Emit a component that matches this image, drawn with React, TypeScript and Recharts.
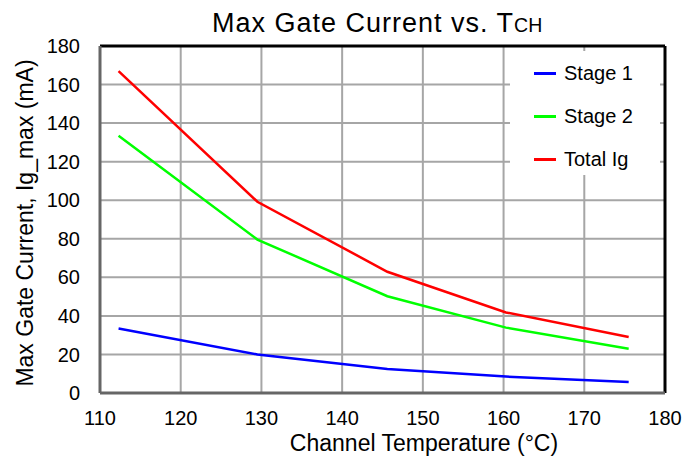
import React from 'react';
import { LineChart, Line, XAxis, YAxis, CartesianGrid, ReferenceLine } from 'recharts';

// channel temperature (°C) at each measured point
const temps = [112.3, 129.5, 145.6, 160.3, 175.5];
// max gate current (mA)
const stage1 = [33.5, 20, 12.4, 8.5, 5.7];
const stage2 = [133.5, 79.6, 50.2, 33.9, 23];
const totalIg = [167, 99.2, 62.9, 41.8, 29];

const xTicks = [110, 120, 130, 140, 150, 160, 170, 180];
const yTicks = [0, 20, 40, 60, 80, 100, 120, 140, 160, 180];

const SERIES = [
    { key: 'stage1', name: 'Stage 1', color: '#0000FF' },
    { key: 'stage2', name: 'Stage 2', color: '#00FF00' },
    { key: 'total', name: 'Total Ig', color: '#FF0000' },
];

const FONT = '"Liberation Sans", Arial, sans-serif';

const data = temps.map((t, i) => ({
    temp: t,
    stage1: stage1[i],
    stage2: stage2[i],
    total: totalIg[i],
}));

// legend sits inside the plot, top right, on a white box that hides the grid
const LegendBox = () => (
    <div style={{ position: 'absolute', left: 510, top: 51, background: '#fff', width: 150, height: 124, paddingTop: 1, boxSizing: 'border-box' }}>
        {SERIES.map((s) => (
            <div key={s.key} style={{ display: 'flex', alignItems: 'center', height: 43, fontFamily: FONT, fontSize: 20, color: '#000' }}>
                <span style={{ display: 'inline-block', width: 22, height: 3, background: s.color, marginLeft: 24, marginRight: 8 }} />
                {s.name}
            </div>
        ))}
    </div>
);

export default function App() {
    return (
        <div style={{ position: 'relative', width: 699, height: 457, margin: '-8px 0 0 -8px', background: '#fff', fontFamily: FONT }}>
            <LineChart width={699} height={457} data={data} margin={{ top: 46, right: 34, bottom: 34, left: 0 }} style={{ position: 'absolute', left: 0, top: 0 }}>
                <CartesianGrid stroke="#a6a6a6" strokeWidth={2} />
                <XAxis
                    dataKey="temp"
                    type="number"
                    domain={[110, 180]}
                    ticks={xTicks}
                    interval={0}
                    height={30}
                    axisLine={{ stroke: '#666', strokeWidth: 3 }}
                    tickLine={false}
                    tickMargin={12}
                    tick={{ fill: '#000', fontSize: 20, fontFamily: FONT }}
                />
                <YAxis
                    type="number"
                    domain={[0, 180]}
                    ticks={yTicks}
                    interval={0}
                    width={100}
                    axisLine={{ stroke: '#666', strokeWidth: 3 }}
                    tickLine={false}
                    tickMargin={14}
                    tick={{ fill: '#000', fontSize: 20, fontFamily: FONT }}
                />
                {/* black frame on top and right */}
                <ReferenceLine y={180} stroke="#000" strokeWidth={3} />
                <ReferenceLine x={180} stroke="#000" strokeWidth={3} />
                {SERIES.map((s) => (
                    <Line
                        key={s.key}
                        type="linear"
                        dataKey={s.key}
                        name={s.name}
                        stroke={s.color}
                        strokeWidth={2.5}
                        dot={false}
                        activeDot={false}
                        isAnimationActive={false}
                    />
                ))}
            </LineChart>
            <LegendBox />
            <div style={{ position: 'absolute', left: 212, top: 9.5, fontSize: 27, lineHeight: '27px', letterSpacing: 1, color: '#000', whiteSpace: 'nowrap' }}>
                Max Gate Current vs. T<span style={{ fontSize: 19.5, letterSpacing: 0 }}>CH</span>
            </div>
            <div style={{ position: 'absolute', left: 424, top: 431.5, transform: 'translateX(-50%)', fontSize: 23, lineHeight: '23px', whiteSpace: 'nowrap' }}>
                Channel Temperature (°C)
            </div>
            <div style={{ position: 'absolute', left: 25, top: 223, transform: 'translate(-50%, -50%) rotate(-90deg)', fontSize: 23, lineHeight: '23px', whiteSpace: 'nowrap' }}>
                Max Gate Current, Ig_max (mA)
            </div>
        </div>
    );
}
